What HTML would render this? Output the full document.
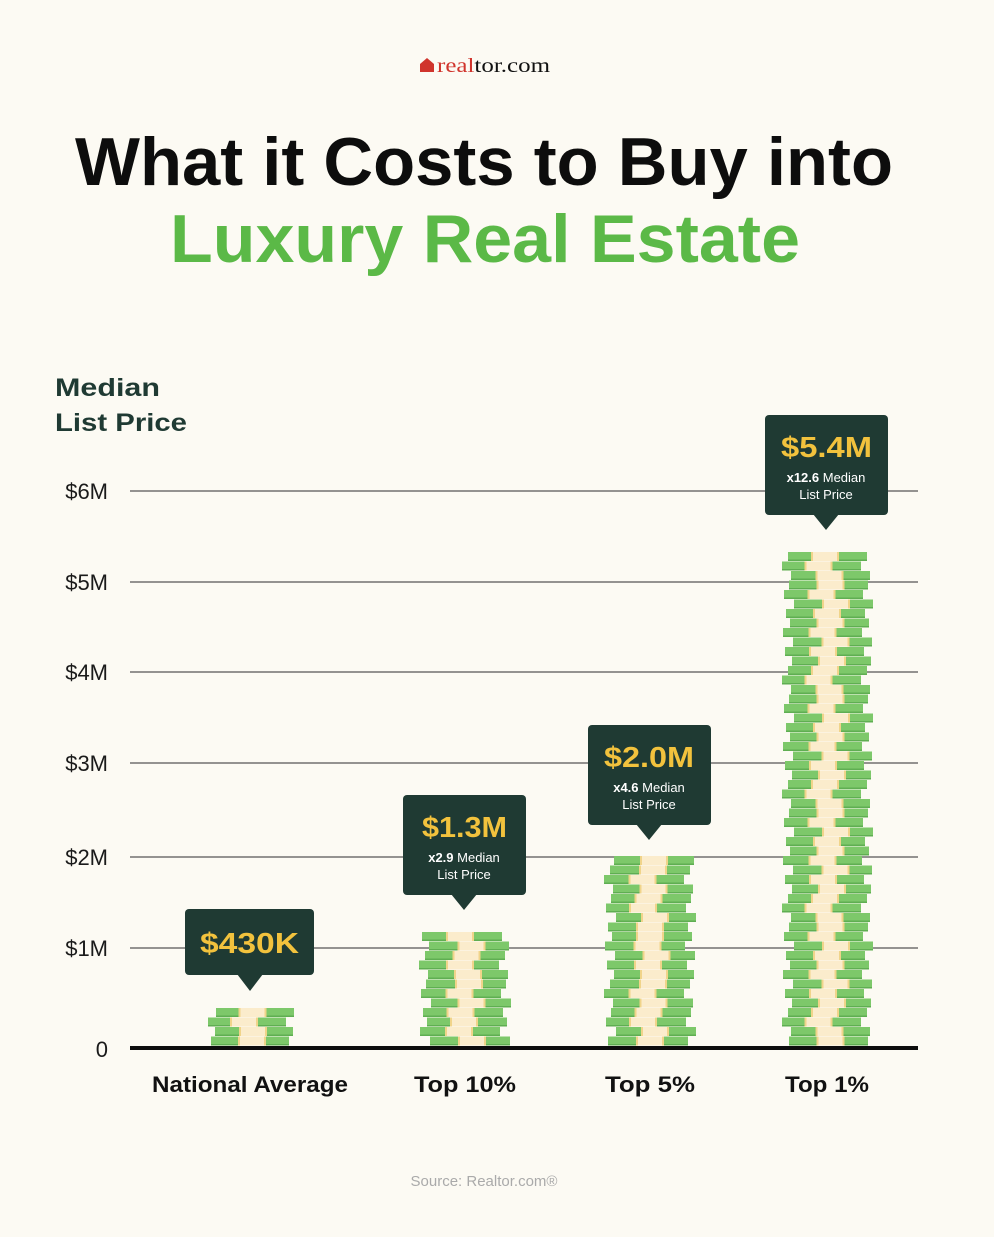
<!DOCTYPE html>
<html><head><meta charset="utf-8"><style>
body{margin:0;width:994px;height:1232px;background:#fcfaf3;font-family:"Liberation Sans",sans-serif;overflow:hidden}
</style></head><body>
<svg id="s" width="994" height="1232" xmlns="http://www.w3.org/2000/svg" font-family="Liberation Sans, sans-serif">
<rect width="994" height="1232" fill="#fcfaf3"/>
<path d="M420 64 L427 58 L434 64 L434 72 L420 72 Z" fill="#d0342c"/>
<text x="437" y="72" font-family="Liberation Serif, serif" font-size="20" textLength="113" lengthAdjust="spacingAndGlyphs"><tspan fill="#d0342c">real</tspan><tspan fill="#111">tor.com</tspan></text>
<text x="75" y="185" font-size="68" font-weight="bold" fill="#0d0d0d" textLength="818" lengthAdjust="spacingAndGlyphs">What it Costs to Buy into</text>
<text x="170" y="262" font-size="68" font-weight="bold" fill="#5bb947" textLength="630" lengthAdjust="spacingAndGlyphs">Luxury Real Estate</text>
<text x="55" y="396" font-size="25" font-weight="bold" fill="#1f3a33" textLength="105" lengthAdjust="spacingAndGlyphs">Median</text>
<text x="55" y="431" font-size="25" font-weight="bold" fill="#1f3a33" textLength="132" lengthAdjust="spacingAndGlyphs">List Price</text>
<g stroke="#555" stroke-width="1.2">
<line x1="130" y1="491" x2="918" y2="491"/><line x1="130" y1="582" x2="918" y2="582"/>
<line x1="130" y1="672" x2="918" y2="672"/><line x1="130" y1="763" x2="918" y2="763"/>
<line x1="130" y1="857" x2="918" y2="857"/><line x1="130" y1="948" x2="918" y2="948"/>
</g>
<g font-size="22" fill="#1a1a1a" text-anchor="end">
<text x="108" y="499">$6M</text><text x="108" y="590">$5M</text><text x="108" y="680">$4M</text>
<text x="108" y="771">$3M</text><text x="108" y="865">$2M</text><text x="108" y="956">$1M</text>
<text x="108" y="1057">0</text></g>
<g id="stacks"></g>
<rect x="130" y="1046" width="788" height="4" fill="#0d0d0d"/>
<g font-size="22" font-weight="bold" fill="#111">
<text x="152" y="1092" textLength="196" lengthAdjust="spacingAndGlyphs">National Average</text>
<text x="414" y="1092" textLength="102" lengthAdjust="spacingAndGlyphs">Top 10%</text>
<text x="605" y="1092" textLength="90" lengthAdjust="spacingAndGlyphs">Top 5%</text>
<text x="785" y="1092" textLength="84" lengthAdjust="spacingAndGlyphs">Top 1%</text></g>
<g fill="#1f3a33">
<rect x="185" y="909" width="129" height="66" rx="4"/><path d="M237 974h26l-13 17z"/>
<rect x="403" y="795" width="123" height="100" rx="4"/><path d="M451 894h26l-13 16z"/>
<rect x="588" y="725" width="123" height="100" rx="4"/><path d="M636 824h26l-13 16z"/>
<rect x="765" y="415" width="123" height="100" rx="4"/><path d="M813 514h26l-13 16z"/>
</g>
<g font-weight="bold" fill="#f2c23d" font-size="29">
<text x="200" y="953" textLength="99" lengthAdjust="spacingAndGlyphs">$430K</text>
<text x="422" y="837" textLength="85" lengthAdjust="spacingAndGlyphs">$1.3M</text>
<text x="604" y="767" textLength="90" lengthAdjust="spacingAndGlyphs">$2.0M</text>
<text x="781" y="457" textLength="91" lengthAdjust="spacingAndGlyphs">$5.4M</text></g>
<g fill="#fff" text-anchor="middle" font-size="13">
<text x="464" y="862"><tspan font-weight="bold">x2.9</tspan> Median</text><text x="464" y="879">List Price</text>
<text x="649" y="792"><tspan font-weight="bold">x4.6</tspan> Median</text><text x="649" y="809">List Price</text>
<text x="826" y="482"><tspan font-weight="bold">x12.6</tspan> Median</text><text x="826" y="499">List Price</text></g>
<text x="484" y="1186" text-anchor="middle" font-size="15" fill="#aaa">Source:  Realtor.com®</text>
</svg>
<script>
var g=document.getElementById('stacks'),h='';
var offs=[0,4,-3,5,-5,2,-2,6,-4,1,3,-6];
[[208,292,1008],[422,508,925],[607,693,857],[785,870,548]].forEach(function(s,si){
 var i=0;for(var y=1046-9.5;y>=s[2]-2;y-=9.5,i++){
  var o=offs[(i+si*3)%offs.length],x=s[0]+o+3,w=s[1]-s[0]-6,c=x+w/2;
  h+='<rect x="'+x+'" y="'+y.toFixed(1)+'" width="'+w+'" height="9" fill="#7dc86a"/>';
  h+='<rect x="'+x+'" y="'+(y+7.5).toFixed(1)+'" width="'+w+'" height="1.5" fill="#5fae52"/>';
  var co=offs[(i*5+1)%offs.length]/2;
  h+='<rect x="'+(c-14+co)+'" y="'+y.toFixed(1)+'" width="28" height="9" fill="#f0d48a"/>';
  h+='<rect x="'+(c-12+co)+'" y="'+y.toFixed(1)+'" width="24" height="9" fill="#fbeccc"/>';
 }});
g.innerHTML=h;
</script>
</body></html>
